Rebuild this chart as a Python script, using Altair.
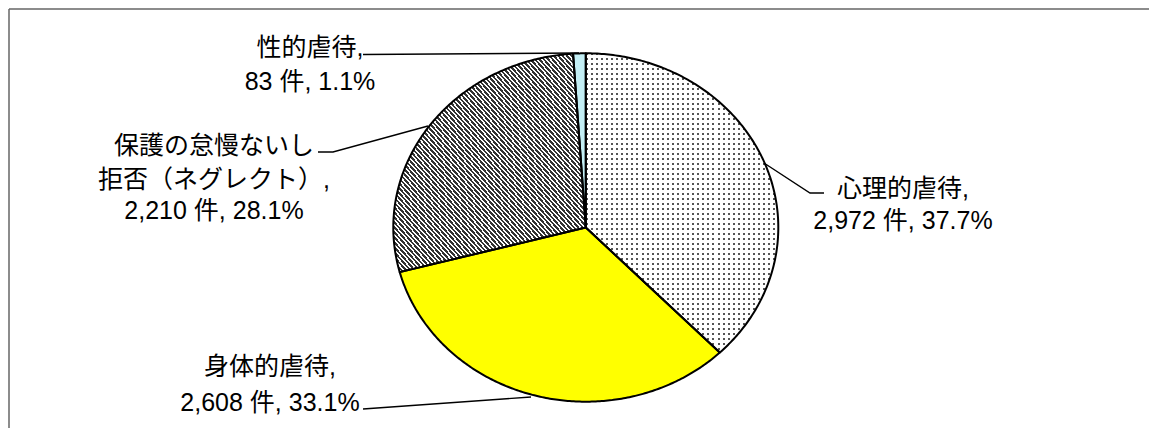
import altair as alt
import pandas as pd

# ---------------- data ----------------
categories = ["心理的虐待", "身体的虐待", "保護の怠慢ないし\n拒否（ネグレクト）", "性的虐待"]
counts = [2972, 2608, 2210, 83]
unit = "件"

# ---------------- layout (page pixels) ----------------
W, H = 1141, 420          # plot area
OX, OY = 8, 8             # page margin
CX, CY, RX, RY = 585.8, 227.5, 192.5, 174.2   # pie centre / radii
N = 200                   # points per arc

label_pos = [             # centre x, centre y of each text line
    (903, [189, 221]),
    (270, [367, 403]),
    (214, [146, 180, 211]),
    (310, [48, 82]),
]
leader_pts = [
    [(764, 163), (810, 193), (824, 193)],
    [(531, 397), (363, 409)],
    [(428, 126), (333, 152), (318, 152)],
    [(579, 53), (363, 54.5)],
]

FONT = "Liberation Sans, Noto Sans CJK JP"
FS = 25


# ---------------- fills ----------------
def stripes(n, frac, c_on, c_off, x1, y1, x2, y2):
    stops = []
    for i in range(n):
        a = round(i / n, 5)
        b = round((i + frac) / n, 5)
        c = round((i + 1) / n, 5)
        stops += [
            {"color": c_on, "offset": a},
            {"color": c_on, "offset": b},
            {"color": c_off, "offset": b},
            {"color": c_off, "offset": c},
        ]
    return {"gradient": "linear", "x1": x1, "y1": y1, "x2": x2, "y2": y2, "stops": stops}


dots_v = stripes(38, 0.4, "transparent", "#ffffff", 0, 0, 1, 0)
dots_h = stripes(60, 0.4, "transparent", "#ffffff", 0, 0, 0, 1)
hatch = stripes(88, 0.55, "#333333", "#ffffff", 0, 1, 1, 0)

names = [c.replace("\n", "") for c in categories]
total = sum(counts)

xs = alt.Scale(domain=[OX, OX + W], nice=False, zero=False)
ys = alt.Scale(domain=[OY, OY + H], nice=False, zero=False, reverse=True)

df = pd.DataFrame({"cat": names, "n": counts, "idx": list(range(len(counts)))})

pie_base = (
    alt.Chart(df)
    .transform_window(cum="sum(n)", sort=[alt.SortField("idx", order="ascending")], frame=[None, 0])
    .transform_joinaggregate(total="sum(n)")
    .transform_calculate(start="datum.cum - datum.n")
    .transform_calculate(k=f"sequence(0, {N + 3})")
    .transform_flatten(["k"])
    .transform_calculate(t=f"clamp((datum.k - 1) / {N}, 0, 1)")
    .transform_calculate(on=f"(datum.k >= 1 && datum.k <= {N + 1}) ? 1 : 0")
    .transform_calculate(a="2 * PI * (datum.start + datum.n * datum.t) / datum.total")
    .transform_calculate(px=f"{CX} + datum.on * {RX} * sin(datum.a)")
    .transform_calculate(py=f"{CY} - datum.on * {RY} * cos(datum.a)")
)

enc = dict(
    x=alt.X("px:Q", scale=xs, axis=None),
    y=alt.Y("py:Q", scale=ys, axis=None),
    order=alt.Order("k:Q"),
)


def slice_fill(name, fill):
    return (
        pie_base.transform_filter(alt.datum.cat == name)
        .mark_line(filled=True, fill=fill, strokeWidth=0, strokeOpacity=0)
        .encode(**enc)
    )


layers = []

# border (top and left)
one = pd.DataFrame({"z": [0]})
layers.append(alt.Chart(one).mark_rule(color="#666666", strokeWidth=1.5).encode(
    x=alt.value(1), x2=alt.value(W), y=alt.value(1)))
layers.append(alt.Chart(one).mark_rule(color="#666666", strokeWidth=1.5).encode(
    x=alt.value(1), y=alt.value(1), y2=alt.value(H)))

# slices
layers.append(slice_fill(names[0], "#555555"))
layers.append(slice_fill(names[0], dots_v))
layers.append(slice_fill(names[0], dots_h))
layers.append(slice_fill(names[1], "#ffff00"))
layers.append(slice_fill(names[2], hatch))
layers.append(slice_fill(names[3], "#c3eff5"))

# outlines
layers.append(
    pie_base.mark_line(color="black", strokeWidth=2, strokeJoin="round").encode(
        detail="cat:N", **enc)
)

# leader lines
lrows = []
for i, pts in enumerate(leader_pts):
    for j, (x, y) in enumerate(pts):
        lrows.append({"id": i, "o": j, "x": x, "y": y})
ldf = pd.DataFrame(lrows)
layers.append(
    alt.Chart(ldf).mark_line(color="black", strokeWidth=1.4).encode(
        x=alt.X("x:Q", scale=xs, axis=None),
        y=alt.Y("y:Q", scale=ys, axis=None),
        detail="id:N",
        order="o:Q",
    )
)

# labels
trows = []
for cat, n, (lx, lys) in zip(categories, counts, label_pos):
    pct = n / total * 100
    lines = cat.split("\n")
    lines[-1] = lines[-1] + ","
    lines.append(f"{n:,} {unit}, {pct:.1f}%")
    for line, ly in zip(lines, lys):
        trows.append({"text": line, "x": lx, "y": ly})
tdf = pd.DataFrame(trows)
layers.append(
    alt.Chart(tdf).mark_text(font=FONT, fontSize=FS, align="center", baseline="middle", color="black").encode(
        x=alt.X("x:Q", scale=xs, axis=None),
        y=alt.Y("y:Q", scale=ys, axis=None),
        text="text:N",
    )
)

chart = (
    alt.layer(*layers)
    .properties(width=W, height=H, padding=0, autosize="none", background="white")
    .configure_view(strokeWidth=0)
)

chart.save("out.html", embed_options={"renderer": "svg", "actions": False})
